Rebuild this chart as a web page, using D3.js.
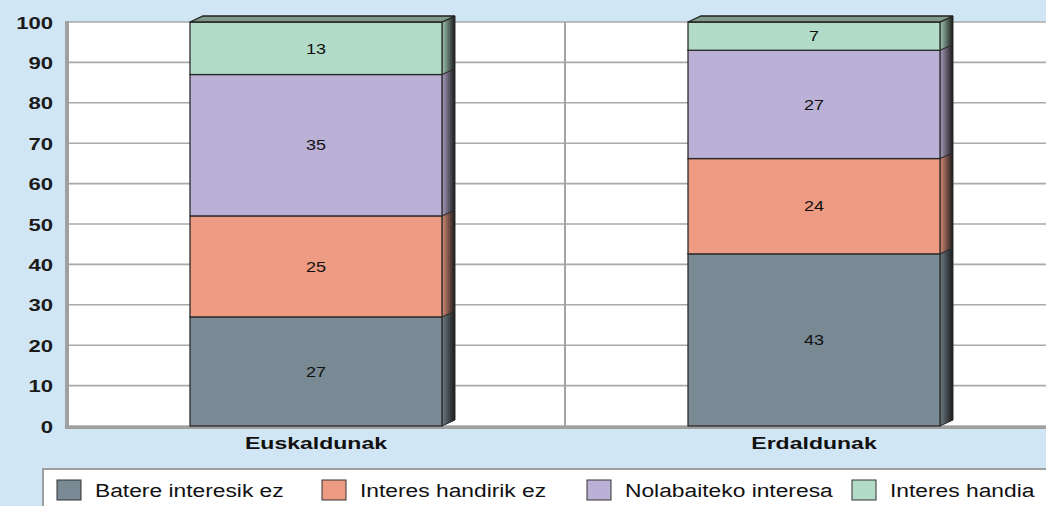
<!DOCTYPE html>
<html>
<head>
<meta charset="utf-8">
<script src="https://cdn.jsdelivr.net/npm/d3@7"></script>
<style>
  body { margin: 0; background: #d1e6f4; }
  svg { display: block; font-family: "Liberation Sans", Arial, sans-serif; }
</style>
</head>
<body>
<svg id="chart" width="1046" height="506"></svg>
<script>
// data
var categories = ["Euskaldunak", "Erdaldunak"];
var seriesNames = ["Batere interesik ez", "Interes handirik ez", "Nolabaiteko interesa", "Interes handia"];
var bateraInteresikEz = [27, 42.6];
var interesHandirikEz = [25, 23.6];
var nolabaitekoInteresa = [35, 26.8];
var interesHandia = [13, 7.0];
var yTicks = [0, 10, 20, 30, 40, 50, 60, 70, 80, 90, 100];
var colors = ["#798a94", "#ee9b83", "#bbb0d5", "#b2dcc7"];

var allSeries = [bateraInteresikEz, interesHandirikEz, nolabaitekoInteresa, interesHandia];

var svg = d3.select("#chart"),
    margin = {top: 22, left: 67},
    plotBottom = 426,
    plotRight = 1063;

var x = d3.scaleBand()
    .domain(categories)
    .range([margin.left, plotRight])
    .paddingInner(0.494)
    .paddingOuter(0.247);
var y = d3.scaleLinear().domain([0, 100]).range([plotBottom, margin.top]);

var depthX = 13, depthY = 6;

// stacked rows
var rows = categories.map(function(c, i) {
    var row = {cat: c};
    seriesNames.forEach(function(s, j) { row[s] = allSeries[j][i]; });
    return row;
});
var stacked = d3.stack().keys(seriesNames)(rows);

var defs = svg.append("defs");
colors.forEach(function(c, i) {
    var grad = defs.append("linearGradient").attr("id", "side" + i)
        .attr("x1", "0").attr("x2", "1").attr("y1", "0").attr("y2", "0");
    grad.append("stop").attr("offset", "0%").attr("stop-color", d3.color(c).darker(0.3));
    grad.append("stop").attr("offset", "100%").attr("stop-color", "#1a1a1a");
});

// plot area
svg.append("rect")
    .attr("x", margin.left).attr("y", margin.top)
    .attr("width", 1046 - margin.left).attr("height", plotBottom - margin.top)
    .attr("fill", "#fff");

svg.append("g")
    .selectAll("line")
    .data(yTicks)
  .enter().append("line")
    .attr("x1", margin.left).attr("x2", 1046)
    .attr("y1", function(d) { return y(d); })
    .attr("y2", function(d) { return y(d); })
    .attr("stroke", "#a9a9a9")
    .attr("stroke-width", 1.6);

svg.append("line")
    .attr("x1", margin.left + x.step()).attr("x2", margin.left + x.step())
    .attr("y1", margin.top).attr("y2", plotBottom)
    .attr("stroke", "#a3a3a3").attr("stroke-width", 2);

// axes lines
svg.append("rect").attr("x", 65).attr("y", margin.top - 1)
    .attr("width", 4).attr("height", plotBottom - margin.top + 3).attr("fill", "#a0a0a0");
svg.append("rect").attr("x", 65).attr("y", plotBottom)
    .attr("width", 1046 - 65).attr("height", 3).attr("fill", "#a0a0a0");

// y axis labels
var yAxis = svg.append("g")
    .attr("transform", "translate(" + margin.left + ",0)")
    .call(d3.axisLeft(y).tickValues(yTicks).tickSize(0).tickPadding(0));
yAxis.select(".domain").remove();
yAxis.selectAll("text")
    .attr("x", 0).attr("dy", "0.36em")
    .attr("transform", "translate(-14,0) scale(1.3,1)")
    .style("font-family", "'Liberation Sans', Arial, sans-serif")
    .style("font-size", "17px").style("font-weight", "bold").attr("fill", "#1a1a1a");

// bars
var bw = x.bandwidth();
var layers = svg.append("g").selectAll("g")
    .data(stacked)
  .enter().append("g");

layers.each(function(layer, li) {
    var g = d3.select(this);
    // side face
    g.selectAll(".side").data(layer).enter().append("path")
        .attr("d", function(d) {
            var x1 = x(d.data.cat) + bw, yt = y(d[1]), yb = y(d[0]);
            return "M" + x1 + "," + yt + "L" + (x1 + depthX) + "," + (yt - depthY) +
                   "L" + (x1 + depthX) + "," + (yb - depthY) + "L" + x1 + "," + yb + "Z";
        })
        .attr("fill", "url(#side" + li + ")")
        .attr("stroke", "#2a2a2a").attr("stroke-width", 1);
    g.selectAll(".front").data(layer).enter().append("rect")
        .attr("x", function(d) { return x(d.data.cat); })
        .attr("y", function(d) { return y(d[1]); })
        .attr("width", bw)
        .attr("height", function(d) { return y(d[0]) - y(d[1]); })
        .attr("fill", colors[li])
        .attr("stroke", "#2a2a2a").attr("stroke-width", 1.3);
    g.selectAll(".val").data(layer).enter().append("text")
        .attr("transform", function(d) {
            return "translate(" + (x(d.data.cat) + bw / 2) + "," + ((y(d[0]) + y(d[1])) / 2) + ") scale(1.2,1)";
        })
        .attr("text-anchor", "middle").attr("dy", "0.35em")
        .style("font-size", "15px").attr("fill", "#111")
        .text(function(d) { return d3.format(".0f")(d[1] - d[0]); });
});

// top faces
var topLayer = stacked[stacked.length - 1];
svg.append("g").selectAll("path")
    .data(topLayer)
  .enter().append("path")
    .attr("d", function(d) {
        var x0 = x(d.data.cat), x1 = x0 + bw, yt = y(d[1]);
        return "M" + x0 + "," + yt + "L" + (x0 + depthX) + "," + (yt - depthY) +
               "L" + (x1 + depthX) + "," + (yt - depthY) + "L" + x1 + "," + yt + "Z";
    })
    .attr("fill", "#7f9a8b")
    .attr("stroke", "#222").attr("stroke-width", 1.3);

// category labels
svg.append("g").selectAll("text")
    .data(categories)
  .enter().append("text")
    .attr("transform", function(d) { return "translate(" + (x(d) + bw / 2) + ",449) scale(1.44,1)"; })
    .attr("text-anchor", "middle")
    .style("font-size", "16px").style("font-weight", "bold").attr("fill", "#111")
    .text(function(d) { return d; });

// legend
svg.append("rect")
    .attr("x", 43).attr("y", 469).attr("width", 1100).attr("height", 60)
    .attr("fill", "#fff").attr("stroke", "#a0a0a0").attr("stroke-width", 2);

var legend = svg.append("g").selectAll("g")
    .data(seriesNames)
  .enter().append("g")
    .attr("transform", function(d, i) { return "translate(" + (57 + i * 265) + ",0)"; });
legend.append("rect")
    .attr("y", 480).attr("width", 24).attr("height", 20)
    .attr("fill", function(d, i) { return colors[i]; })
    .attr("stroke", "#333").attr("stroke-width", 1);
legend.append("text")
    .attr("transform", "translate(38,497) scale(1.2,1)")
    .style("font-size", "19px").attr("fill", "#111")
    .text(function(d) { return d; });
</script>
</body>
</html>
